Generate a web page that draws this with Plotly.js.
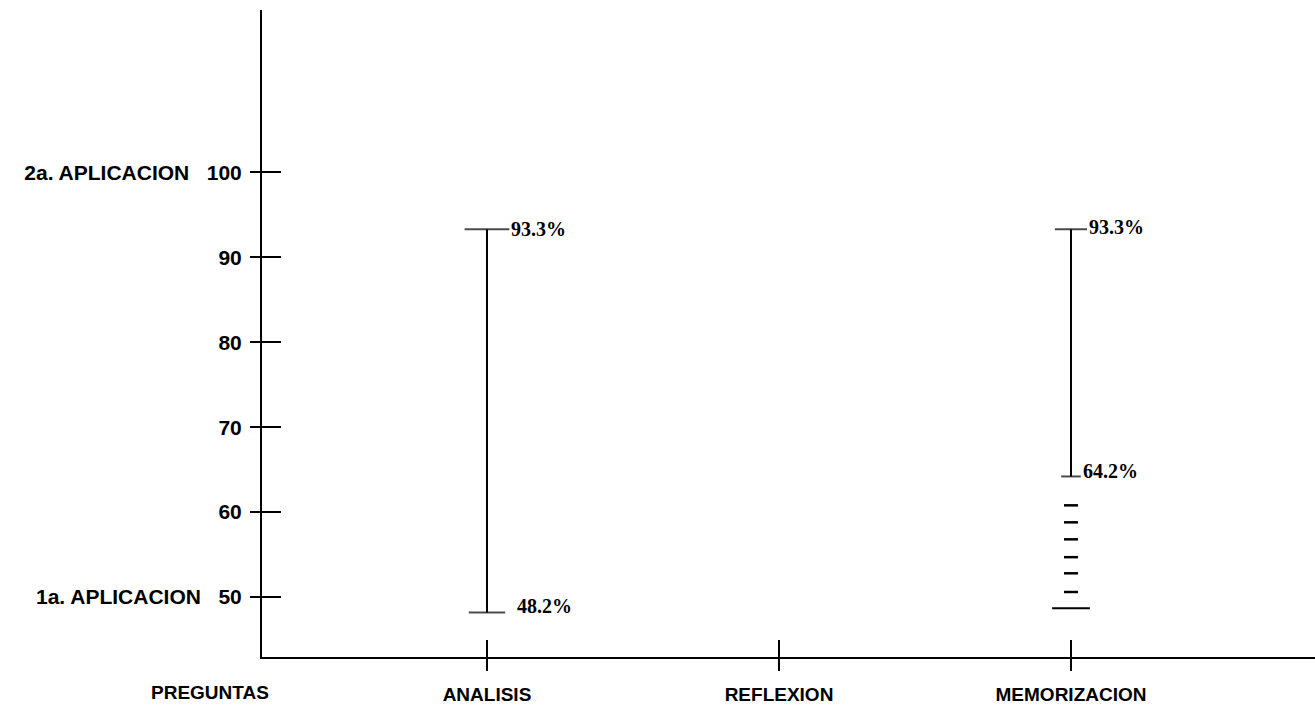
<!DOCTYPE html>
<html>
<head>
<meta charset="utf-8">
<script src="https://cdn.plot.ly/plotly-3.0.1.min.js"></script>
<style>html,body{margin:0;padding:0;background:#fff;}#chart{width:1315px;height:706px;}</style>
</head>
<body>
<div id="chart"></div>
<script>
// ---- data ----
const categories = ['ANALISIS', 'REFLEXION', 'MEMORIZACION'];
const xAxisTitle = 'PREGUNTAS';
const yTickVals = [50, 60, 70, 80, 90, 100];
const yTickText = ['1a. APLICACION\u00A0\u00A0\u00A050', '60', '70', '80', '90', '2a. APLICACION\u00A0\u00A0\u00A0100'];
const analisisRange = [48.2, 93.3];          // 1a -> 2a aplicacion
const memorizacionRange = [64.2, 93.3];
const memorizacionDashes = [60.8, 58.8, 56.8, 54.7, 52.8, 50.6];
const memorizacionBase = [48.7];

// ---- styles ----
const black = '#000';
const yRange = [42.95, 119.1];
const xRange = [-0.7705, 2.8356];
const sans = 'Liberation Sans, Arial, sans-serif';
const serif = 'Liberation Serif, Times New Roman, serif';

function capTrace(cat, vals, sizes) {
  return {
    x: vals.map(() => cat), y: vals, type: 'scatter', mode: 'lines+markers',
    line: {color: black, width: 2},
    marker: {symbol: 'line-ew', size: sizes, color: black, line: {color: black, width: 2}},
    showlegend: false, hoverinfo: 'y'
  };
}

const traces = [
  capTrace(categories[0], analisisRange, [26, 32]),
  capTrace(categories[2], memorizacionRange, [14, 23]),
  {
    x: memorizacionDashes.map(() => categories[2]), y: memorizacionDashes, type: 'scatter', mode: 'markers',
    marker: {symbol: 'line-ew', size: 10, color: black, line: {color: black, width: 2.5}},
    showlegend: false, hoverinfo: 'y'
  },
  {
    x: memorizacionBase.map(() => categories[2]), y: memorizacionBase, type: 'scatter', mode: 'markers',
    marker: {symbol: 'line-ew', size: 27, color: black, line: {color: black, width: 2}},
    showlegend: false, hoverinfo: 'y'
  },
  { // carrier for the inner tick axes
    x: [categories[1]], y: [null], xaxis: 'x2', yaxis: 'y2', type: 'scatter', mode: 'markers',
    showlegend: false, hoverinfo: 'skip'
  }
];

const labelFont = {family: serif, size: 20, color: black, weight: 700};
const annotations = [
  {x: categories[0], y: analisisRange[1], text: analisisRange[1].toFixed(1) + '%', xshift: 22, yshift: 0},
  {x: categories[0], y: analisisRange[0], text: analisisRange[0].toFixed(1) + '%', xshift: 28, yshift: 6},
  {x: categories[2], y: memorizacionRange[1], text: memorizacionRange[1].toFixed(1) + '%', xshift: 16, yshift: 2},
  {x: categories[2], y: memorizacionRange[0], text: memorizacionRange[0].toFixed(1) + '%', xshift: 10, yshift: 5}
].map(a => Object.assign({xref: 'x', yref: 'y', xanchor: 'left', yanchor: 'middle', showarrow: false, font: labelFont}, a));

annotations.push({
  x: -0.0494, xref: 'paper', y: 0, yref: 'paper', yanchor: 'middle', xanchor: 'center', yshift: -35,
  text: xAxisTitle, showarrow: false, borderpad: 0, font: {family: sans, size: 19, color: black, weight: 700}
});

const layout = {
  width: 1315, height: 706,
  margin: {l: 262, r: 0, t: 10, b: 49, pad: 0},
  paper_bgcolor: '#fff', plot_bgcolor: '#fff',
  showlegend: false,
  xaxis: {
    type: 'category', categoryorder: 'array', categoryarray: categories, range: xRange,
    showline: true, linecolor: black, linewidth: 2, showgrid: false, zeroline: false,
    ticks: 'outside', ticklen: 12, tickwidth: 2, tickcolor: black, ticklabelstandoff: 7,
    tickfont: {family: sans, size: 19, color: black, weight: 700}
  },
  yaxis: {
    range: yRange, tickvals: yTickVals, ticktext: yTickText,
    showline: true, linecolor: black, linewidth: 2, showgrid: false, zeroline: false,
    ticks: 'outside', ticklen: 10, tickwidth: 2, tickcolor: black, ticklabelstandoff: 4,
    tickfont: {family: sans, size: 21, color: black, weight: 700}
  },
  xaxis2: {
    overlaying: 'x', anchor: 'y2', side: 'bottom', type: 'category', categoryorder: 'array', categoryarray: categories,
    range: xRange, showline: false, showgrid: false, zeroline: false, showticklabels: false,
    ticks: 'inside', ticklen: 17, tickwidth: 2, tickcolor: black
  },
  yaxis2: {
    overlaying: 'y', anchor: 'x2', side: 'left', range: yRange, tickvals: yTickVals,
    showline: false, showgrid: false, zeroline: false, showticklabels: false,
    ticks: 'inside', ticklen: 19, tickwidth: 2, tickcolor: black
  },
  annotations: annotations
};

Plotly.newPlot('chart', traces, layout, {displayModeBar: false, staticPlot: true});
</script>
</body>
</html>
